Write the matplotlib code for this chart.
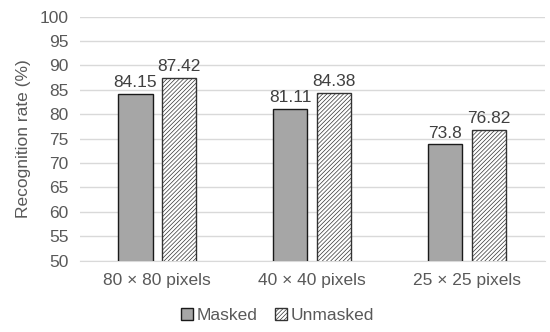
import matplotlib.pyplot as plt
import numpy as np

plt.rcParams["font.family"] = ["Liberation Sans", "DejaVu Sans"]
plt.rcParams["hatch.color"] = "#595959"
plt.rcParams["hatch.linewidth"] = 0.5

categories = ["80 × 80 pixels", "40 × 40 pixels", "25 × 25 pixels"]
masked = [84.15, 81.11, 73.8]
unmasked = [87.42, 84.38, 76.82]
value_labels_masked = ["84.15", "81.11", "73.8"]
value_labels_unmasked = ["87.42", "84.38", "76.82"]

text_color = "#595959"
fs = 12.5

fig = plt.figure(figsize=(5.5, 3.32), dpi=100)
ax = fig.add_axes([0.145, 0.215, 0.845, 0.735])

x = np.arange(len(categories))
w = 0.22
gap = 0.03
off = w / 2 + gap

b1 = ax.bar(x - off, masked, w, color="#a6a6a6", edgecolor="#1a1a1a",
            linewidth=1.0, label="Masked", zorder=3)
b2 = ax.bar(x + off, unmasked, w, color="white", edgecolor="#333333",
            hatch="////////", linewidth=1.0, label="Unmasked", zorder=3)

for xi, v, s in zip(x - off, masked, value_labels_masked):
    ax.text(xi, v + 0.8, s, ha="center", va="bottom", fontsize=fs, color="#404040")
for xi, v, s in zip(x + off, unmasked, value_labels_unmasked):
    ax.text(xi, v + 0.8, s, ha="center", va="bottom", fontsize=fs, color="#404040")

ax.set_ylim(50, 100)
ax.set_yticks(range(50, 101, 5))
ax.set_xlim(-0.5, 2.5)
ax.set_xticks(x)
ax.set_xticklabels(categories)
ax.tick_params(axis="both", length=0, labelsize=fs, labelcolor=text_color)
ax.tick_params(axis="x", pad=9)
ax.tick_params(axis="y", pad=8)
ax.set_ylabel("Recognition rate (%)", fontsize=fs, color=text_color, labelpad=6)
ax.grid(axis="y", color="#d9d9d9", linewidth=1.0, zorder=0)
ax.set_axisbelow(True)
for sp in ["top", "right", "left"]:
    ax.spines[sp].set_visible(False)
ax.spines["bottom"].set_color("#d9d9d9")

leg = fig.legend(handles=[b1, b2], loc="lower center", ncol=2, frameon=False,
                 fontsize=fs, bbox_to_anchor=(0.505, -0.02), handlelength=0.7,
                 handleheight=0.7, handletextpad=0.2, columnspacing=1.0)
for t in leg.get_texts():
    t.set_color(text_color)

fig.savefig("out.png", dpi=100)
